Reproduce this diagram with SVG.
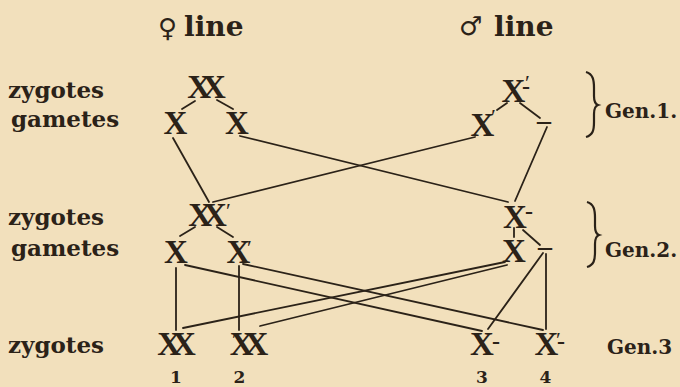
<svg xmlns="http://www.w3.org/2000/svg" width="680" height="387" viewBox="0 0 680 387">
<style>
.lbl{font-family:"DejaVu Serif","Liberation Serif",serif;font-weight:bold;font-size:23px;fill:#2b2218}
.hd{font-family:"DejaVu Serif","Liberation Serif",serif;font-weight:bold;font-size:28px;fill:#2b2218}
.sym{font-family:"DejaVu Sans","Noto Sans",sans-serif;font-size:26px;font-weight:normal}
.gen{font-family:"DejaVu Serif","Liberation Serif",serif;font-weight:bold;font-size:20px;fill:#2b2218}
.num{font-family:"DejaVu Serif","Liberation Serif",serif;font-weight:bold;font-size:17px;fill:#2b2218;text-anchor:middle}
.x{font-family:"Liberation Serif","DejaVu Serif",serif;font-weight:bold;font-size:33px;fill:#2b2218;text-anchor:middle}
.xx{letter-spacing:-9px}
.pr{font-size:22px;font-weight:normal;text-anchor:start;letter-spacing:0}
.dl{font-size:28px}
.ds{font-size:24px;text-anchor:start;letter-spacing:0}
.ln{stroke:#2b2218;stroke-width:1.8;fill:none;stroke-linecap:round}
.br{stroke:#2b2218;stroke-width:2.2;fill:none}
</style>
<rect width="680" height="387" fill="#f2e0bc"/>

<g id="headers">
<text class="hd" x="158" y="36"><tspan class="sym" y="37">♀</tspan><tspan x="184" y="36">line</tspan></text>
<text class="hd" x="459" y="35"><tspan class="sym">♂</tspan><tspan x="494" y="36">line</tspan></text>
</g>

<g id="row-labels">
<text class="lbl" x="8" y="98">zygotes</text>
<text class="lbl" x="11" y="127">gametes</text>
<text class="lbl" x="8" y="225">zygotes</text>
<text class="lbl" x="11" y="256">gametes</text>
<text class="lbl" x="8" y="353">zygotes</text>
</g>

<g id="gen-labels">
<path class="br" d="M586,72 C593,74 594,80 594,88 L594,96 C594,101 595,104 598,105 C595,106 594,109 594,114 L594,122 C594,130 593,135 586,137"/>
<text class="gen" x="605" y="118">Gen.1.</text>
<path class="br" transform="translate(1,130)" d="M586,72 C593,74 594,80 594,88 L594,96 C594,101 595,104 598,105 C595,106 594,109 594,114 L594,122 C594,130 593,135 586,137"/>
<text class="gen" x="605" y="257">Gen.2.</text>
<text class="gen" x="607" y="354">Gen.3</text>
</g>

<g id="connectors">
<line class="ln" x1="195" y1="101" x2="182" y2="109"/>
<line class="ln" x1="217" y1="100" x2="233" y2="109"/>
<line class="ln" x1="507" y1="103" x2="497" y2="110"/>
<line class="ln" x1="520" y1="103" x2="540" y2="118"/>
<line class="ln" x1="195" y1="227" x2="180" y2="236"/>
<line class="ln" x1="217" y1="227" x2="233" y2="237"/>
<line class="ln" x1="514" y1="228" x2="514" y2="237"/>
<line class="ln" x1="523" y1="230" x2="540" y2="245"/>
<line class="ln" x1="173" y1="138" x2="209" y2="202"/>
<line class="ln" x1="240" y1="136" x2="508" y2="202"/>
<line class="ln" x1="475" y1="137" x2="213" y2="202"/>
<line class="ln" x1="547" y1="127" x2="515" y2="201"/>
<line class="ln" x1="176" y1="268" x2="176" y2="330"/>
<line class="ln" x1="239" y1="266" x2="239" y2="330"/>
<line class="ln" x1="185" y1="265" x2="482" y2="331"/>
<line class="ln" x1="243" y1="264" x2="543" y2="330"/>
<line class="ln" x1="505" y1="262" x2="183" y2="328"/>
<line class="ln" x1="507" y1="265" x2="260" y2="326"/>
<line class="ln" x1="543" y1="253" x2="488" y2="329"/>
<line class="ln" x1="546" y1="254" x2="546" y2="329"/>
</g>

<g id="f1-zygote"><text class="x xx" x="202" y="98">XX</text></g>
<g id="f1-gamete-a"><text class="x" x="175.5" y="134">X</text></g>
<g id="f1-gamete-b"><text class="x" x="237" y="134">X</text></g>

<g id="m1-zygote"><text class="x" x="513.5" y="102">X<tspan class="pr" x="525" y="90">′</tspan><tspan class="ds" x="522" y="94">-</tspan></text></g>
<g id="m1-gamete-a"><text class="x" x="482.5" y="136">X<tspan class="pr" x="491" y="124">′</tspan></text></g>
<g id="m1-gamete-b"><text class="x dl" x="544" y="129">–</text></g>

<g id="f2-zygote"><text class="x xx" x="203" y="226">XX<tspan class="pr" x="226" y="218">′</tspan></text></g>
<g id="f2-gamete-a"><text class="x" x="176" y="263">X</text></g>
<g id="f2-gamete-b"><text class="x" x="238.5" y="263">X<tspan class="pr" x="247" y="255">′</tspan></text></g>

<g id="m2-zygote"><text class="x" x="515" y="228">X<tspan class="ds" x="525" y="219">-</tspan></text></g>
<g id="m2-gamete-a"><text class="x" x="514" y="262">X</text></g>
<g id="m2-gamete-b"><text class="x dl" x="545" y="255">–</text></g>

<g id="g3-1"><text class="x xx" x="172" y="355">XX</text><text class="num" x="176" y="383">1</text></g>
<g id="g3-2"><text class="x xx" x="244.5" y="355">XX<tspan class="pr" x="232" y="347">′</tspan></text><text class="num" x="239.5" y="383">2</text></g>
<g id="g3-3"><text class="x" x="482" y="355">X<tspan class="ds" x="492" y="349">-</tspan></text><text class="num" x="482" y="383">3</text></g>
<g id="g3-4"><text class="x" x="546.5" y="355">X<tspan class="pr" x="556" y="347">′</tspan><tspan class="ds" x="557" y="349">-</tspan></text><text class="num" x="545.5" y="383">4</text></g>
</svg>
